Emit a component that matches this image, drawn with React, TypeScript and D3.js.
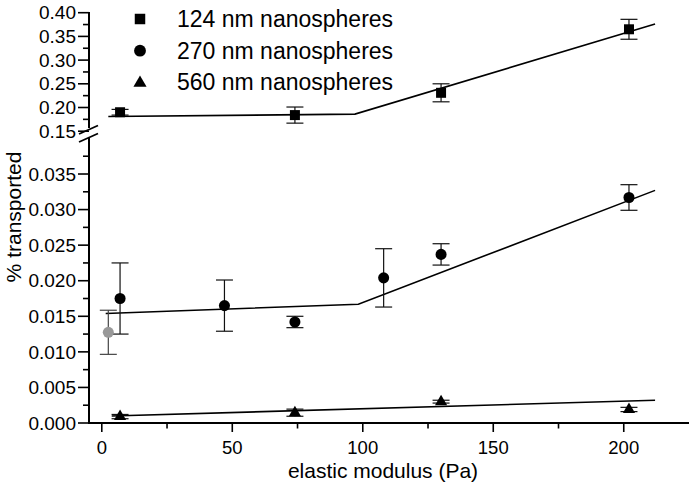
import React from "react";
import * as d3 from "d3";

// ---- data ----
const x124 = [7, 74, 130, 202];
const y124 = [0.19, 0.184, 0.231, 0.365];
const e124 = [0.006, 0.017, 0.019, 0.021];

const x270 = [7, 47, 74, 108, 130, 202];
const y270 = [0.0175, 0.0165, 0.0142, 0.0204, 0.0237, 0.0317];
const e270 = [0.005, 0.0036, 0.0008, 0.0041, 0.0015, 0.0018];

const xGrey = [2.5];
const yGrey = [0.01275];
const eGrey = [0.0031];

const x560 = [7, 74, 130, 202];
const y560 = [0.0009, 0.00145, 0.003, 0.0019];
const e560 = [0.0003, 0.0005, 0.0002, 0.0003];

const fit124X = [2.5, 97, 212];
const fit124Y = [0.181, 0.186, 0.376];
const fit270X = [1.5, 98.3, 212];
const fit270Y = [0.0154, 0.0167, 0.0327];
const fit560X = [3.8, 212];
const fit560Y = [0.00098, 0.0032];

const xTicks = [0, 50, 100, 150, 200];
const xMinor = [25, 75, 125, 175];
const lowTicks = [0, 0.005, 0.01, 0.015, 0.02, 0.025, 0.03, 0.035];
const lowMinor = [0.0025, 0.0075, 0.0125, 0.0175, 0.0225, 0.0275, 0.0325, 0.0375];
const upTicks = [0.15, 0.2, 0.25, 0.3, 0.35, 0.4];
const upMinor = [0.175, 0.225, 0.275, 0.325, 0.375];

const legendLabels = ["124 nm nanospheres", "270 nm nanospheres", "560 nm nanospheres"];

const FONT = "'Liberation Sans', Arial, Helvetica, sans-serif";

export default function App() {
  const axisX = 89;
  const x = d3.scaleLinear().domain([-4.9, 225]).range([axisX, 689]);
  const yLow = d3.scaleLinear().domain([0, 0.04]).range([423, 423 - 0.04 * 7114]);
  const yUp = d3.scaleLinear().domain([0.15, 0.4]).range([131.2, 12.7]);

  const sq = d3.symbol().type(d3.symbolSquare).size(100)() as string;
  const circ = d3.symbol().type(d3.symbolCircle).size(96)() as string;
  const tri = d3.symbol().type(d3.symbolTriangle).size(64)() as string;
  const sqL = d3.symbol().type(d3.symbolSquare).size(110)() as string;
  const circL = d3.symbol().type(d3.symbolCircle).size(110)() as string;
  const triL = d3.symbol().type(d3.symbolTriangle).size(75)() as string;

  const line = (xs: number[], ys: number[], ys2: d3.ScaleLinear<number, number>) =>
    d3.line<number>().x((d, i) => x(xs[i])).y((d) => ys2(d))(ys) as string;

  const errBars = (
    xs: number[], ys: number[], es: number[], sc: d3.ScaleLinear<number, number>, color: string, key: string
  ) =>
    xs.map((xv, i) => {
      const px = x(xv);
      const t = sc(ys[i] + es[i]);
      const b = sc(ys[i] - es[i]);
      const hw = 8.5;
      return (
        <g key={key + i} stroke={color} strokeWidth={1.2} fill="none">
          <line x1={px} x2={px} y1={t} y2={b} />
          <line x1={px - hw} x2={px + hw} y1={t} y2={t} />
          <line x1={px - hw} x2={px + hw} y1={b} y2={b} />
        </g>
      );
    });

  const markers = (xs: number[], ys: number[], sc: d3.ScaleLinear<number, number>, path: string, color: string, key: string) =>
    xs.map((xv, i) => (
      <path key={key + i} d={path} transform={`translate(${x(xv)},${sc(ys[i])})`} fill={color} />
    ));

  return (
    <svg width={692} height={487} style={{ position: "absolute", left: 0, top: 0, background: "#fff" }} fontFamily={FONT}>
      {/* axes */}
      <g stroke="#000" fill="none">
        <line x1={axisX} x2={axisX} y1={12} y2={128} strokeWidth={2} />
        <line x1={axisX} x2={axisX} y1={138} y2={424} strokeWidth={2} />
        <line x1={axisX - 1} x2={689} y1={423} y2={423} strokeWidth={2} />
        {/* break marks */}
        <line x1={79} x2={98} y1={134} y2={125.5} strokeWidth={1.8} />
        <line x1={79} x2={98} y1={142} y2={133.5} strokeWidth={1.8} />
      </g>
      {/* y ticks lower */}
      <g stroke="#000" strokeWidth={1.6}>
        {lowTicks.map((t) => (
          <line key={"lt" + t} x1={78} x2={axisX} y1={yLow(t)} y2={yLow(t)} />
        ))}
        {lowMinor.map((t) => (
          <line key={"lm" + t} x1={83} x2={axisX} y1={yLow(t)} y2={yLow(t)} />
        ))}
        {upTicks.map((t) => (
          <line key={"ut" + t} x1={78} x2={axisX} y1={yUp(t)} y2={yUp(t)} />
        ))}
        {upMinor.map((t) => (
          <line key={"um" + t} x1={83} x2={axisX} y1={yUp(t)} y2={yUp(t)} />
        ))}
        {xTicks.map((t) => (
          <line key={"xt" + t} x1={x(t)} x2={x(t)} y1={423} y2={432} />
        ))}
        {xMinor.map((t) => (
          <line key={"xm" + t} x1={x(t)} x2={x(t)} y1={423} y2={428.5} />
        ))}
      </g>
      <g fontSize={19} fill="#000" textAnchor="end">
        {lowTicks.map((t) => (
          <text key={"ll" + t} x={76} y={yLow(t)} dy="0.35em">
            {d3.format(".3f")(t)}
          </text>
        ))}
        {upTicks.map((t) => (
          <text key={"ul" + t} x={76} y={yUp(t)} dy="0.35em">
            {d3.format(".2f")(t)}
          </text>
        ))}
      </g>
      <g fontSize={18.5} fill="#000" textAnchor="middle">
        {xTicks.map((t) => (
          <text key={"xl" + t} x={x(t)} y={454}>
            {t}
          </text>
        ))}
      </g>
      <text x={383} y={478} fontSize={21} textAnchor="middle">
        elastic modulus (Pa)
      </text>
      <text transform="translate(21,217) rotate(-90)" fontSize={21} textAnchor="middle">
        % transported
      </text>

      {/* fit lines */}
      <g fill="none" stroke="#000" strokeWidth={1.6}>
        <path d={line(fit124X, fit124Y, yUp)} />
        <path d={line(fit270X, fit270Y, yLow)} />
        <path d={line(fit560X, fit560Y, yLow)} />
      </g>

      {/* error bars */}
      {errBars(x124, y124, e124, yUp, "#111", "e124")}
      {errBars(x270, y270, e270, yLow, "#111", "e270")}
      {errBars(xGrey, yGrey, eGrey, yLow, "#444", "eg")}
      {errBars(x560, y560, e560, yLow, "#111", "e560")}

      {/* markers */}
      {markers(x124, y124, yUp, sq, "#000", "m124")}
      {markers(x270, y270, yLow, circ, "#000", "m270")}
      {markers(xGrey, yGrey, yLow, circ, "#999", "mg")}
      {markers(x560, y560, yLow, tri, "#000", "m560")}

      {/* legend */}
      <g>
        <path d={sqL} transform="translate(140,19)" fill="#000" />
        <path d={circL} transform="translate(140,50.7)" fill="#000" />
        <path d={triL} transform="translate(140,83)" fill="#000" />
        {legendLabels.map((l, i) => (
          <text key={l} x={177} y={19 + i * 31.5} dy="0.35em" fontSize={23} fill="#000">
            {l}
          </text>
        ))}
      </g>
    </svg>
  );
}
